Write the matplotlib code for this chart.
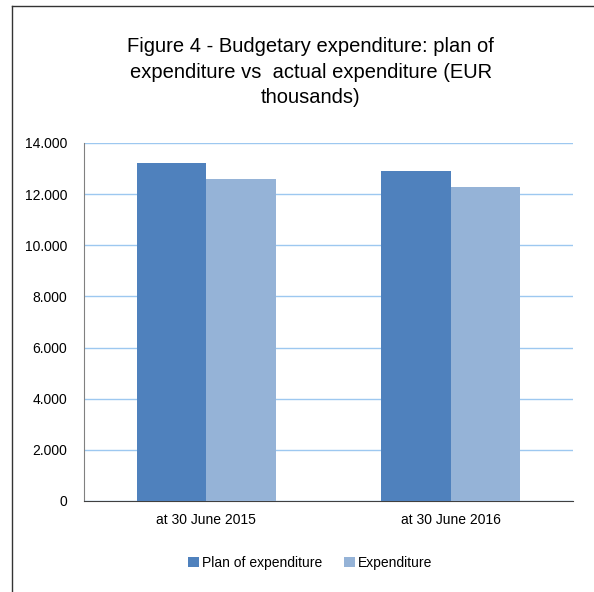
import matplotlib
matplotlib.use("Agg")
import matplotlib.pyplot as plt
from matplotlib.lines import Line2D
from matplotlib.ticker import FuncFormatter
import numpy as np

categories = ["at 30 June 2015", "at 30 June 2016"]
plan = [13200, 12900]
expenditure = [12600, 12280]
series_names = ["Plan of expenditure", "Expenditure"]

plt.rcParams['font.family'] = ['Liberation Sans', 'DejaVu Sans']

fig = plt.figure(figsize=(5.94, 5.92), dpi=100)
W, H = 594, 592
ax = fig.add_axes([84 / W, 1 - 501 / H, (573 - 84) / W, (501 - 143) / H])

x = np.arange(len(categories))
w = 0.285
ax.bar(x - w / 2, plan, w, color="#4F81BD", label=series_names[0], zorder=3)
ax.bar(x + w / 2, expenditure, w, color="#95B3D7", label=series_names[1], zorder=3)

ax.set_xlim(-0.5, 1.5)
ax.set_ylim(0, 14000)
ax.set_yticks(np.arange(0, 14001, 2000))
ax.yaxis.set_major_formatter(FuncFormatter(lambda v, p: f"{int(v):,}".replace(",", ".")))
ax.set_xticks(x)
ax.set_xticklabels(categories)
ax.tick_params(axis='both', length=0, labelsize=10, pad=9)
ax.tick_params(axis='y', pad=12)
ax.grid(axis='y', color="#9DC8F0", linewidth=1, zorder=0)

for s in ["top", "right"]:
    ax.spines[s].set_visible(False)
ax.spines["left"].set_color("#808080")
ax.spines["bottom"].set_color("#404040")

fig.text(0.523, 1 - 72 / H, "Figure 4 - Budgetary expenditure: plan of\nexpenditure vs  actual expenditure (EUR\nthousands)",
         ha="center", va="center", fontsize=14.5, linespacing=1.45)

fig.legend(loc="center", bbox_to_anchor=(0.522, 1 - 563 / H), ncol=2, frameon=False,
           fontsize=10, handlelength=0.8, handleheight=0.8, handletextpad=0.2, columnspacing=1.6)

# outer frame (left and top edges)
fig.add_artist(Line2D([12 / W, 12 / W], [0, 1 - 6 / H], transform=fig.transFigure, color="#333333", linewidth=1))
fig.add_artist(Line2D([12 / W, 1], [1 - 6 / H, 1 - 6 / H], transform=fig.transFigure, color="#333333", linewidth=1))

fig.savefig("out.png", dpi=100)
